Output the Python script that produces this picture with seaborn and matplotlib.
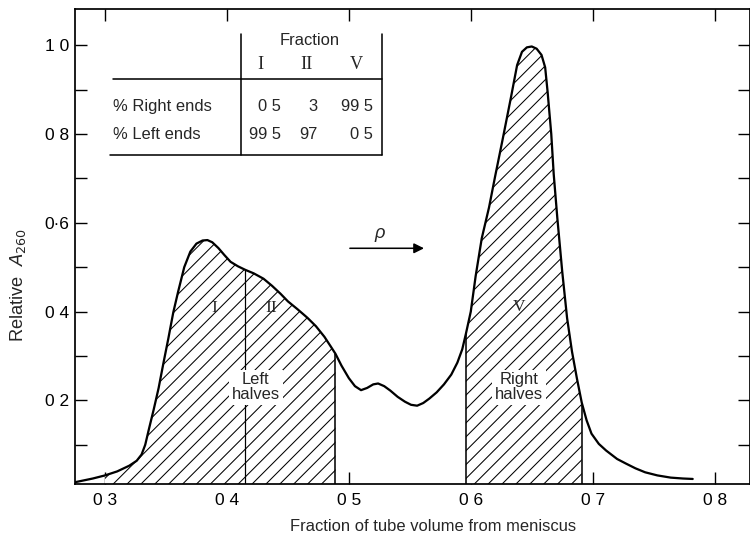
"""Relative A260 along the tube, with the left-half and right-half pools shaded."""

import numpy as np
import matplotlib
matplotlib.use("Agg")
import matplotlib.pyplot as plt
import seaborn as sns

# fraction of tube volume from meniscus
frac = [0.276, 0.290, 0.300, 0.310, 0.320, 0.326, 0.330, 0.333, 0.336, 0.340,
        0.344, 0.348, 0.352, 0.356, 0.360, 0.365, 0.370, 0.375, 0.380, 0.384,
        0.388, 0.393, 0.398, 0.403, 0.409, 0.415, 0.422, 0.430, 0.437, 0.444,
        0.450, 0.458, 0.466, 0.473, 0.480, 0.485, 0.489, 0.494, 0.500, 0.505,
        0.510, 0.515, 0.520, 0.524, 0.529, 0.534, 0.540, 0.546, 0.551, 0.556,
        0.561, 0.566, 0.572, 0.578, 0.584, 0.589, 0.593, 0.596, 0.600, 0.604,
        0.609, 0.615, 0.620, 0.626, 0.633, 0.638, 0.642, 0.646, 0.650, 0.654,
        0.658, 0.661, 0.663, 0.666, 0.668, 0.671, 0.675, 0.679, 0.683, 0.687,
        0.691, 0.695, 0.699, 0.705, 0.711, 0.720, 0.727, 0.735, 0.743, 0.753,
        0.764, 0.774, 0.782]
# relative A260
a260 = [0.016, 0.024, 0.031, 0.040, 0.053, 0.064, 0.078, 0.100, 0.135, 0.180,
        0.228, 0.285, 0.340, 0.398, 0.445, 0.500, 0.535, 0.553, 0.560, 0.561,
        0.556, 0.543, 0.527, 0.512, 0.502, 0.494, 0.486, 0.474, 0.458, 0.440,
        0.423, 0.405, 0.386, 0.367, 0.343, 0.322, 0.305, 0.278, 0.250, 0.232,
        0.223, 0.228, 0.236, 0.238, 0.232, 0.222, 0.208, 0.197, 0.190, 0.188,
        0.194, 0.204, 0.218, 0.236, 0.258, 0.285, 0.315, 0.350, 0.400, 0.480,
        0.565, 0.635, 0.705, 0.786, 0.883, 0.955, 0.985, 0.995, 0.997, 0.992,
        0.978, 0.950, 0.895, 0.800, 0.710, 0.610, 0.490, 0.385, 0.310, 0.250,
        0.195, 0.155, 0.125, 0.102, 0.087, 0.068, 0.058, 0.047, 0.038, 0.031,
        0.026, 0.024, 0.023]

x_ticks = [0.3, 0.4, 0.5, 0.6, 0.7, 0.8]
x_tick_labels = ["0 3", "0 4", "0 5", "0 6", "0 7", "0 8"]
y_ticks = [0.2, 0.4, 0.6, 0.8, 1.0]
y_tick_labels = ["0 2", "0 4", "0·6", "0 8", "1 0"]
y_minor = [0.1, 0.3, 0.5, 0.7, 0.9]

# pooled fractions: left halves (I | II) and right halves (V)
left_pool = [0.300, 0.415, 0.489]
right_pool = [0.596, 0.691]

# end-label table
fractions = ["I", "II", "V"]
right_ends = ["0 5", "3", "99 5"]
left_ends = ["99 5", "97", "0 5"]

sns.set_style("ticks")
plt.rcParams["font.family"] = ["Liberation Sans", "DejaVu Sans"]
plt.rcParams["hatch.linewidth"] = 0.6
plt.rcParams["hatch.color"] = "black"

fig = plt.figure(figsize=(6.0, 4.32), dpi=125)
ax = fig.add_axes([0.1, 0.104, 0.9, 0.879])

x = np.array(frac)
y = np.array(a260)

sns.lineplot(x=x, y=y, ax=ax, color="black", linewidth=1.3, zorder=3)

# hatched pools under the curve
for pool in (left_pool, right_pool):
    inside = (x >= pool[0] - 1e-9) & (x <= pool[-1] + 1e-9)
    ax.fill_between(x, 0, y, where=inside, facecolor="white",
                    edgecolor="black", hatch="///", linewidth=0, zorder=1)

# pool edges and the I/II cut
for cut, lw in [(left_pool[1], 0.7), (left_pool[2], 0.9),
                (right_pool[0], 0.9), (right_pool[1], 0.9)]:
    top = y[np.isclose(x, cut)][0]
    ax.vlines(cut, 0, top, color="black", linewidth=lw, zorder=2)

ax.set_xlim(0.2754, 0.829)
ax.set_ylim(0.012, 1.081)
ax.set_xticks(x_ticks, x_tick_labels)
ax.set_yticks(y_ticks, y_tick_labels)
ax.set_yticks(y_minor, minor=True)
ax.tick_params(which="both", direction="in", top=True, right=True,
               length=7, width=0.8, color="black", labelsize=10,
               labelcolor="black")
ax.tick_params(axis="x", pad=5)
for side in ax.spines.values():
    side.set_linewidth(1.0)
    side.set_color("black")

ax.set_xlabel("Fraction of tube volume from meniscus", fontsize=9.5)
ax.set_ylabel("Relative  $\\mathit{A}_{260}$", fontsize=10.5)
ax.xaxis.set_label_coords(0.53, -0.074)
ax.yaxis.set_label_coords(-0.07, 0.42)

# fraction labels inside the peaks
serif = ["Liberation Serif", "DejaVu Serif"]
ax.text(0.39, 0.407, "I", ha="center", va="center", fontsize=10, family=serif)
ax.text(0.436, 0.407, "II", ha="center", va="center", fontsize=10, family=serif)
ax.text(0.6396, 0.41, "V", ha="center", va="center", fontsize=10, family=serif)

box = dict(facecolor="white", edgecolor="none", pad=1.5)
ax.text(0.4237, 0.229, "Left\nhalves", ha="center", va="center",
        fontsize=9.5, linespacing=1.0, bbox=box, zorder=4)
ax.text(0.6396, 0.229, "Right\nhalves", ha="center", va="center",
        fontsize=9.5, linespacing=1.0, bbox=box, zorder=4)

# density gradient arrow
ax.annotate("", xy=(0.5645, 0.5425), xytext=(0.498, 0.5425),
            arrowprops=dict(arrowstyle="-|>", color="black", lw=0.9,
                            mutation_scale=12))
ax.text(0.5257, 0.575, "ρ", ha="center", va="center", fontsize=10.5,
        style="italic")

# table of end labels, in axes fractions
tr = ax.transAxes
ax.plot([0.2455, 0.2455], [0.693, 0.9475], color="black", lw=0.9, transform=tr)
ax.plot([0.4544, 0.4544], [0.693, 0.9475], color="black", lw=0.9, transform=tr)
ax.plot([0.0563, 0.4544], [0.853, 0.853], color="black", lw=0.9, transform=tr)
ax.plot([0.0519, 0.4544], [0.693, 0.693], color="black", lw=0.9, transform=tr)
ax.text(0.348, 0.933, "Fraction", ha="center", va="center", fontsize=9.5,
        transform=tr)
for xpos, name in zip([0.274, 0.343, 0.417], fractions):
    ax.text(xpos, 0.884, name, ha="center", va="center", fontsize=10.5,
            family=serif, transform=tr)
ax.text(0.0559, 0.794, "% Right ends", ha="left", va="center", fontsize=9.5,
        transform=tr)
ax.text(0.0559, 0.737, "% Left ends", ha="left", va="center", fontsize=9.5,
        transform=tr)
for xpos, r_val, l_val in zip([0.305, 0.36, 0.4415], right_ends, left_ends):
    ax.text(xpos, 0.794, r_val, ha="right", va="center", fontsize=9.5,
            transform=tr)
    ax.text(xpos, 0.737, l_val, ha="right", va="center", fontsize=9.5,
            transform=tr)

fig.savefig("out.png", dpi=125)
